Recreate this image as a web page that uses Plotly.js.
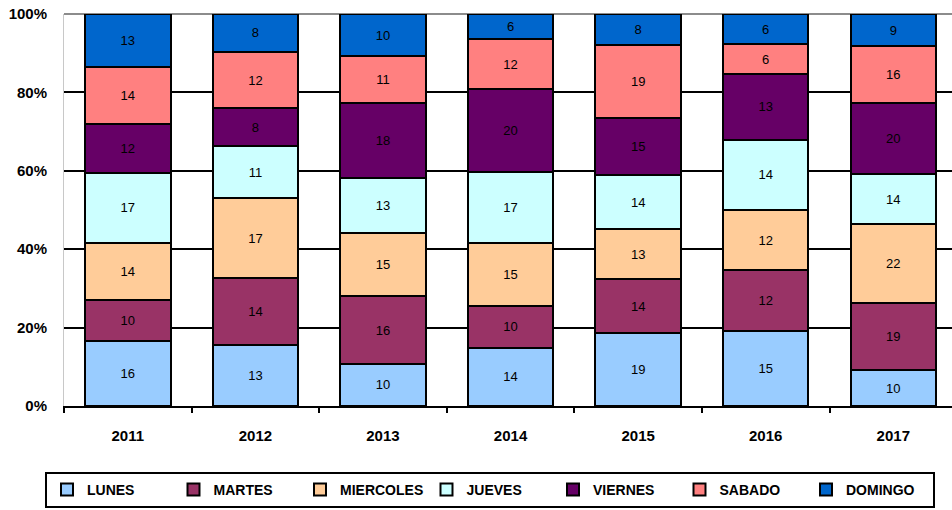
<!DOCTYPE html>
<html>
<head>
<meta charset="utf-8">
<script src="https://cdn.plot.ly/plotly-3.0.1.min.js"></script>
<style>html,body{margin:0;padding:0;overflow:hidden;background:#fff}</style>
</head>
<body>
<div id="chart" style="width:952px;height:510px"></div>
<script>
const years = ['2011','2012','2013','2014','2015','2016','2017'];
const lunes     = [16,13,10,14,19,15,10];
const martes    = [10,14,16,10,14,12,19];
const miercoles = [14,17,15,15,13,12,22];
const jueves    = [17,11,13,17,14,14,14];
const viernes   = [12,8,18,20,15,13,20];
const sabado    = [14,12,11,12,19,6,16];
const domingo   = [13,8,10,6,8,6,9];

const seriesNames = ['LUNES','MARTES','MIERCOLES','JUEVES','VIERNES','SABADO','DOMINGO'];
const seriesData = [lunes, martes, miercoles, jueves, viernes, sabado, domingo];
const seriesColors = ['#99CCFF','#993366','#FFCC99','#CCFFFF','#660066','#FF8080','#0066CC'];

const traces = seriesNames.map((n, i) => ({
  type: 'bar',
  name: n,
  x: years,
  y: seriesData[i],
  text: seriesData[i].map(String),
  textposition: 'inside',
  insidetextanchor: 'middle',
  textangle: 0,
  constraintext: 'none',
  textfont: {family: 'Liberation Sans, Arial, sans-serif', size: 13, color: '#000'},
  marker: {color: seriesColors[i], line: {color: '#000', width: 2}},
  hoverinfo: 'skip'
}));

const layout = {
  width: 952, height: 510,
  margin: {l: 64, r: 0, t: 14, b: 104},
  barmode: 'stack',
  barnorm: 'percent',
  bargap: 0.33,
  paper_bgcolor: '#fff',
  plot_bgcolor: '#fff',
  font: {family: 'Liberation Sans, Arial, sans-serif', color: '#000'},
  xaxis: {
    type: 'category',
    range: [-0.5, 6.46],
    showline: true, linecolor: '#000', linewidth: 2,
    ticks: 'outside', tickson: 'boundaries', ticklen: 5, tickwidth: 2, tickcolor: '#000',
    ticklabelstandoff: 15,
    tickfont: {size: 15, family: 'Liberation Sans, Arial, sans-serif', weight: 'bold'},
    showgrid: false, fixedrange: true
  },
  yaxis: {
    range: [0, 100],
    tickvals: [0, 20, 40, 60, 80, 100],
    ticktext: ['0%','20%','40%','60%','80%','100%'],
    showgrid: true, gridcolor: '#000', gridwidth: 2,
    zeroline: false,
    showline: true, linecolor: '#c8c8c8', linewidth: 1,
    ticks: '', ticklabelstandoff: 13,
    tickfont: {size: 15, family: 'Liberation Sans, Arial, sans-serif', weight: 'bold'},
    fixedrange: true
  },
  shapes: [{type: 'line', xref: 'paper', yref: 'paper', x0: 0, x1: 1, y0: 1, y1: 1,
            line: {color: '#8c8c8c', width: 2}, layer: 'below'}],
  showlegend: true,
  legend: {
    orientation: 'h',
    x: -0.0214, xanchor: 'left',
    y: -0.168, yanchor: 'top',
    bordercolor: '#000', borderwidth: 2,
    bgcolor: '#fff',
    entrywidth: 81.5, entrywidthmode: 'pixels',
    traceorder: 'normal',
    font: {size: 14, family: 'Liberation Sans, Arial, sans-serif', weight: 'bold'},
    itemclick: false, itemdoubleclick: false
  }
};

Plotly.newPlot('chart', traces, layout, {displayModeBar: false, staticPlot: true});
</script>
</body>
</html>
